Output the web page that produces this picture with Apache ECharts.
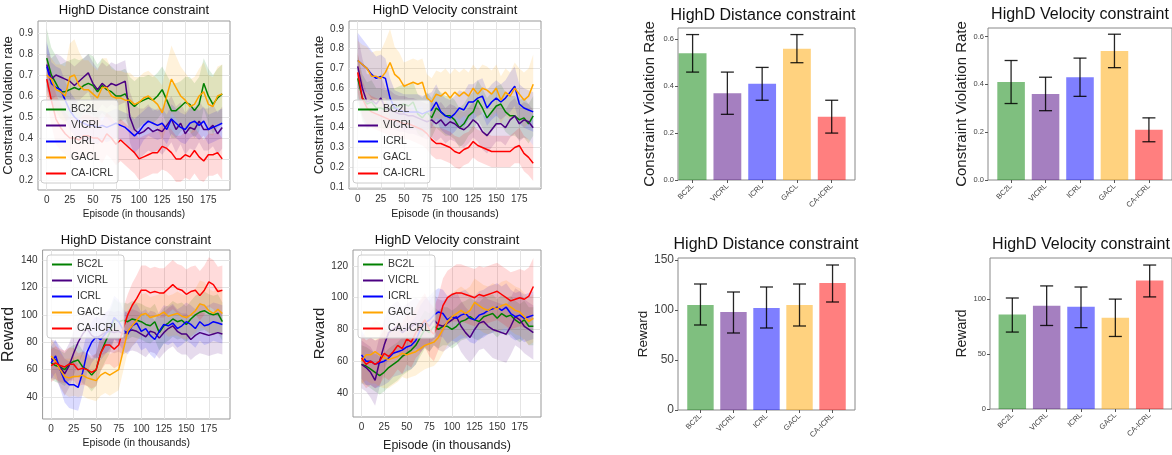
<!DOCTYPE html>
<html>
<head>
<meta charset="utf-8">
<script src="https://cdn.jsdelivr.net/npm/echarts@6/dist/echarts.min.js"></script>
<style>
  html, body { margin: 0; padding: 0; background: #fff; }
  #main { width: 1172px; height: 455px; }
</style>
</head>
<body>
<div id="main"></div>
<script>
var methods = ['BC2L', 'VICRL', 'ICRL', 'GACL', 'CA-ICRL'];
var lineColors = ['#008000', '#4b0082', '#0000ff', '#ffa500', '#ff0000'];
var barColors = ['rgba(0,128,0,0.5)', 'rgba(75,0,130,0.5)', 'rgba(0,0,255,0.5)', 'rgba(255,165,0,0.5)', 'rgba(255,0,0,0.5)'];

// episodes (thousands) at which the curves were read
var episodes = [0,5,10,15,20,25,30,35,40,45,50,55,60,65,70,75,80,85,90,95,100,105,110,115,120,125,130,135,140,145,150,155,160,165,170,175,180,185,190];

// tick labels
var xTicks = [0,25,50,75,100,125,150,175];
var cvDistTicks = [0.2,0.3,0.4,0.5,0.6,0.7,0.8,0.9];
var cvVelTicks = [0.1,0.2,0.3,0.4,0.5,0.6,0.7,0.8,0.9];
var rwDistTicks = [40,60,80,100,120,140];
var rwVelTicks = [40,60,80,100,120];
var barCvTicks = [0,0.2,0.4,0.6];
var barRwDistTicks = [0,50,100,150];
var barRwVelTicks = [0,50,100];

// constraint violation rate, distance constraint (mean)
var cvDistBC2L = [0.78,0.70,0.66,0.62,0.62,0.63,0.64,0.63,0.65,0.66,0.65,0.62,0.65,0.63,0.62,0.60,0.60,0.61,0.57,0.55,0.57,0.58,0.59,0.58,0.60,0.63,0.58,0.53,0.53,0.55,0.57,0.56,0.53,0.56,0.66,0.60,0.56,0.59,0.61];
var cvDistVICRL = [0.75,0.68,0.70,0.69,0.68,0.67,0.65,0.67,0.69,0.71,0.66,0.63,0.66,0.64,0.66,0.65,0.66,0.67,0.50,0.44,0.42,0.43,0.45,0.43,0.44,0.43,0.46,0.49,0.44,0.47,0.42,0.45,0.44,0.48,0.44,0.44,0.46,0.42,0.45];
var cvDistICRL = [0.74,0.66,0.64,0.63,0.58,0.53,0.50,0.48,0.47,0.46,0.46,0.45,0.46,0.45,0.46,0.47,0.46,0.45,0.43,0.41,0.43,0.46,0.48,0.47,0.46,0.47,0.44,0.49,0.47,0.45,0.44,0.47,0.48,0.46,0.48,0.44,0.45,0.46,0.47];
var cvDistGACL = [0.70,0.68,0.63,0.62,0.60,0.69,0.70,0.65,0.63,0.63,0.61,0.59,0.64,0.64,0.60,0.59,0.59,0.58,0.58,0.56,0.57,0.59,0.60,0.58,0.56,0.52,0.60,0.68,0.64,0.60,0.58,0.55,0.56,0.60,0.62,0.56,0.55,0.60,0.61];
var cvDistCA = [0.68,0.58,0.49,0.45,0.42,0.40,0.40,0.39,0.41,0.41,0.40,0.40,0.38,0.42,0.40,0.37,0.39,0.37,0.35,0.33,0.30,0.31,0.32,0.33,0.33,0.36,0.35,0.33,0.30,0.30,0.32,0.31,0.34,0.31,0.29,0.32,0.32,0.33,0.30];
// spread (std) of the shaded bands
var cvDistSdBC2L = [0.14,0.13,0.13,0.13,0.14,0.14,0.14,0.14,0.13,0.14,0.14,0.13,0.13,0.13,0.12,0.12,0.12,0.12,0.12,0.12,0.12,0.11,0.11,0.11,0.11,0.11,0.12,0.13,0.13,0.12,0.12,0.13,0.13,0.13,0.12,0.13,0.14,0.14,0.14];
var cvDistSdVICRL = [0.10,0.10,0.10,0.10,0.09,0.09,0.09,0.09,0.09,0.09,0.10,0.10,0.10,0.10,0.10,0.10,0.10,0.10,0.12,0.12,0.12,0.11,0.11,0.10,0.10,0.11,0.11,0.11,0.11,0.10,0.10,0.10,0.10,0.10,0.10,0.10,0.10,0.10,0.10];
var cvDistSdICRL = [0.12,0.10,0.10,0.10,0.09,0.09,0.09,0.08,0.08,0.08,0.08,0.08,0.07,0.07,0.07,0.07,0.07,0.07,0.08,0.08,0.08,0.07,0.07,0.07,0.07,0.07,0.07,0.07,0.07,0.07,0.07,0.07,0.07,0.07,0.07,0.07,0.07,0.07,0.07];
var cvDistSdGACL = [0.10,0.10,0.12,0.13,0.14,0.16,0.17,0.16,0.14,0.14,0.13,0.13,0.14,0.14,0.13,0.13,0.13,0.13,0.13,0.13,0.12,0.12,0.12,0.12,0.12,0.13,0.15,0.16,0.15,0.14,0.13,0.13,0.13,0.13,0.14,0.14,0.14,0.14,0.14];
var cvDistSdCA = [0.10,0.12,0.12,0.11,0.10,0.10,0.10,0.10,0.10,0.10,0.10,0.10,0.10,0.10,0.10,0.10,0.10,0.10,0.10,0.10,0.10,0.10,0.10,0.10,0.10,0.11,0.11,0.11,0.11,0.11,0.11,0.11,0.11,0.11,0.10,0.10,0.10,0.10,0.10];

// constraint violation rate, velocity constraint
var cvVelBC2L = [0.65,0.55,0.52,0.53,0.50,0.50,0.49,0.50,0.50,0.51,0.52,0.51,0.53,0.47,0.45,0.48,0.45,0.50,0.48,0.46,0.46,0.44,0.40,0.42,0.46,0.48,0.54,0.50,0.45,0.48,0.51,0.52,0.48,0.46,0.46,0.44,0.45,0.42,0.46];
var cvVelVICRL = [0.71,0.60,0.53,0.54,0.52,0.55,0.50,0.49,0.48,0.47,0.47,0.46,0.46,0.45,0.44,0.43,0.44,0.42,0.44,0.41,0.43,0.42,0.40,0.39,0.41,0.44,0.42,0.38,0.36,0.39,0.42,0.42,0.40,0.44,0.46,0.42,0.44,0.43,0.40];
var cvVelICRL = [0.74,0.72,0.70,0.67,0.65,0.66,0.65,0.55,0.50,0.49,0.48,0.48,0.48,0.48,0.47,0.48,0.49,0.53,0.48,0.46,0.45,0.47,0.50,0.49,0.53,0.53,0.55,0.56,0.50,0.53,0.55,0.53,0.55,0.58,0.61,0.52,0.50,0.49,0.48];
var cvVelGACL = [0.74,0.72,0.70,0.66,0.66,0.65,0.68,0.73,0.67,0.65,0.61,0.62,0.63,0.62,0.63,0.55,0.53,0.57,0.56,0.58,0.55,0.58,0.56,0.58,0.56,0.60,0.57,0.60,0.59,0.57,0.60,0.54,0.58,0.56,0.60,0.57,0.54,0.56,0.62];
var cvVelCA = [0.68,0.55,0.50,0.48,0.47,0.46,0.45,0.44,0.44,0.43,0.42,0.42,0.41,0.40,0.39,0.37,0.34,0.32,0.32,0.31,0.30,0.28,0.27,0.29,0.30,0.33,0.31,0.30,0.29,0.28,0.28,0.28,0.28,0.28,0.30,0.31,0.27,0.25,0.22];
var cvVelSdBC2L = [0.12,0.12,0.11,0.11,0.10,0.10,0.10,0.10,0.10,0.10,0.10,0.10,0.10,0.10,0.10,0.10,0.10,0.10,0.10,0.10,0.10,0.10,0.10,0.10,0.10,0.10,0.10,0.10,0.10,0.10,0.10,0.10,0.10,0.10,0.10,0.10,0.10,0.10,0.10];
var cvVelSdVICRL = [0.16,0.15,0.14,0.13,0.12,0.11,0.10,0.10,0.09,0.09,0.09,0.09,0.09,0.09,0.09,0.09,0.09,0.09,0.09,0.09,0.09,0.09,0.09,0.09,0.09,0.09,0.09,0.09,0.09,0.09,0.09,0.09,0.09,0.09,0.09,0.09,0.09,0.09,0.09];
var cvVelSdICRL = [0.14,0.13,0.12,0.12,0.11,0.11,0.10,0.10,0.09,0.09,0.09,0.09,0.09,0.09,0.09,0.09,0.09,0.09,0.09,0.09,0.09,0.09,0.09,0.09,0.09,0.09,0.09,0.09,0.09,0.09,0.09,0.09,0.09,0.10,0.10,0.10,0.10,0.10,0.10];
var cvVelSdGACL = [0.10,0.10,0.11,0.12,0.13,0.14,0.16,0.17,0.14,0.13,0.12,0.12,0.12,0.12,0.12,0.12,0.12,0.12,0.12,0.12,0.12,0.12,0.12,0.12,0.12,0.12,0.12,0.12,0.12,0.12,0.12,0.12,0.12,0.12,0.13,0.13,0.14,0.14,0.15];
var cvVelSdCA = [0.10,0.09,0.08,0.08,0.08,0.08,0.08,0.08,0.08,0.08,0.08,0.08,0.08,0.08,0.08,0.08,0.08,0.08,0.08,0.08,0.08,0.08,0.08,0.08,0.08,0.08,0.08,0.08,0.08,0.08,0.08,0.08,0.08,0.08,0.08,0.09,0.09,0.09,0.09];

// reward, distance constraint
var rwDistBC2L = [65,63,62,60,64,66,67,62,60,56,60,72,80,87,97,95,96,95,97,96,95,93,92,95,87,92,94,97,95,96,93,97,100,102,103,101,100,101,95];
var rwDistVICRL = [68,67,62,57,63,72,80,86,90,85,83,85,87,88,87,88,86,88,89,88,86,84,88,87,83,87,90,92,88,86,86,82,85,87,86,85,86,87,86];
var rwDistICRL = [65,70,60,52,49,49,47,58,73,80,84,82,86,90,98,95,89,86,92,94,88,90,85,82,88,93,92,94,90,92,95,93,90,95,92,93,95,94,93];
var rwDistGACL = [70,66,60,55,54,55,55,56,54,53,52,56,58,56,58,60,74,88,92,96,100,101,98,99,100,102,99,100,101,99,98,100,103,108,107,103,101,104,101];
var rwDistCA = [63,65,63,62,64,64,60,61,60,58,60,72,78,78,75,78,90,100,107,112,118,118,116,117,116,116,119,122,119,118,115,117,118,114,118,124,122,117,118];
var rwDistSdBC2L = [12,12,12,12,12,12,12,12,12,12,12,13,14,15,15,14,13,13,13,13,13,13,13,13,13,13,13,13,13,13,13,13,14,14,14,14,14,14,14];
var rwDistSdVICRL = [14,14,15,16,16,16,16,15,15,15,15,15,15,15,15,15,15,15,15,15,15,15,15,15,15,15,15,15,15,15,15,15,15,15,15,15,15,15,15];
var rwDistSdICRL = [12,12,14,16,17,18,17,16,15,15,15,15,15,15,16,16,15,15,15,14,14,14,14,14,14,14,14,14,14,14,14,14,14,14,14,14,14,14,14];
var rwDistSdGACL = [12,12,12,13,14,14,15,15,15,15,15,15,15,15,15,15,15,15,15,15,15,15,15,15,15,15,15,15,16,16,16,16,16,17,17,16,16,16,16];
var rwDistSdCA = [12,12,12,12,12,12,12,12,12,12,12,13,14,14,14,15,15,15,16,17,18,18,18,18,18,18,18,18,18,18,18,18,18,18,18,18,18,18,18];

// reward, velocity constraint
var rwVelBC2L = [58,57,55,53,51,53,56,58,60,63,65,67,70,75,80,78,82,80,82,82,80,82,85,86,88,86,85,88,89,90,87,90,88,89,86,84,86,82,82];
var rwVelVICRL = [58,56,53,48,60,70,78,80,82,78,80,82,84,82,85,82,86,83,82,84,86,88,82,78,75,80,84,85,82,80,79,78,77,82,88,86,82,80,78];
var rwVelICRL = [64,60,60,58,59,60,62,65,66,67,69,70,73,80,84,86,89,91,90,86,88,87,89,90,87,86,89,90,92,93,94,92,94,90,88,89,87,88,89];
var rwVelGACL = [60,64,64,66,64,62,61,62,63,65,64,65,66,68,70,71,72,75,80,85,88,90,92,90,92,97,95,93,92,94,93,95,96,94,92,91,88,85,87];
var rwVelCA = [62,58,60,58,60,65,63,66,70,68,74,72,78,82,86,80,77,84,95,100,102,103,103,102,101,100,102,101,102,103,104,102,100,98,99,100,99,101,107];
var rwVelSdBC2L = [12,12,12,12,12,12,12,12,12,12,12,12,12,12,12,12,12,12,12,12,12,12,12,12,12,12,12,12,12,12,12,12,12,12,12,12,12,12,12];
var rwVelSdVICRL = [15,15,16,16,16,16,16,16,16,16,16,16,16,16,16,16,16,16,16,16,16,16,16,16,16,17,17,17,17,18,18,18,18,18,18,18,17,17,17];
var rwVelSdICRL = [15,15,15,15,15,15,15,15,15,15,15,15,15,15,15,15,15,15,15,15,15,15,15,15,15,15,15,15,15,15,15,15,15,15,15,15,15,15,15];
var rwVelSdGACL = [14,16,18,20,20,19,18,17,16,15,15,15,15,15,15,15,15,15,15,15,15,15,15,15,15,15,15,15,15,15,15,15,15,15,15,15,15,15,15];
var rwVelSdCA = [15,15,15,15,15,15,15,15,15,16,16,16,16,17,17,17,17,17,17,17,17,18,18,18,18,18,18,18,18,18,18,18,18,18,18,18,18,18,18];

// final bar values with error bar ends
var barCvDist = [0.54,0.37,0.41,0.56,0.27];
var barCvDistLo = [0.46,0.28,0.34,0.50,0.20];
var barCvDistHi = [0.62,0.46,0.48,0.62,0.34];
var barCvVel = [0.41,0.36,0.43,0.54,0.21];
var barCvVelLo = [0.32,0.29,0.35,0.47,0.16];
var barCvVelHi = [0.50,0.43,0.51,0.61,0.26];
var barRwDist = [105,98,102,105,127];
var barRwDistLo = [85,77,82,84,108];
var barRwDistHi = [126,118,123,126,145];
var barRwVel = [86,94,93,83,117];
var barRwVelLo = [70,76,74,66,102];
var barRwVelHi = [101,112,111,100,131];

var font = '"Liberation Sans", Arial, sans-serif';
var titles = [], grids = [], xAxes = [], yAxes = [], legends = [], series = [];

function addTitle(text, cx, top, size) {
  titles.push({
    text: text, left: cx, top: top, textAlign: 'center', padding: 0,
    textStyle: { fontSize: size, fontWeight: 'normal', color: '#111', fontFamily: font }
  });
}

// shaded mean +- std band, drawn as one polygon through the axis coords
function bandRender(rows, color) {
  return function (params, api) {
    if (params.dataIndex !== 0) return null;
    var up = [], dn = [];
    for (var k = 0; k < rows.length; k++) {
      up.push(api.coord([rows[k][0], rows[k][2]]));
      dn.unshift(api.coord([rows[k][0], rows[k][1]]));
    }
    return { type: 'polygon', shape: { points: up.concat(dn) }, style: { fill: color, opacity: 0.14 } };
  };
}

function linePanel(p) {
  var gi = grids.length;
  addTitle(p.title, p.left + p.width / 2, p.titleTop, 13);
  grids.push({ left: p.left, top: p.top, width: p.width, height: p.height, show: true, borderColor: '#999', borderWidth: 1 });
  xAxes.push({
    type: 'value', gridIndex: gi, min: -9.45, max: 198.45,
    name: 'Episode (in thousands)', nameLocation: 'middle', nameGap: p.xGap,
    nameTextStyle: { fontSize: p.xNameSize, color: '#222', fontFamily: font },
    axisLine: { show: false, onZero: false },
    axisTick: { show: false, customValues: xTicks },
    axisLabel: { customValues: xTicks, fontSize: 10, color: '#333', margin: 5, fontFamily: font },
    splitLine: { show: true, lineStyle: { color: '#e4e4e4' } }
  });
  yAxes.push({
    type: 'value', gridIndex: gi, min: p.yMin, max: p.yMax,
    name: p.yName, nameLocation: 'middle', nameGap: p.yGap,
    nameTextStyle: { fontSize: p.yNameSize, color: '#222', fontFamily: font },
    axisLine: { show: false, onZero: false },
    axisTick: { show: false, customValues: p.ticks },
    axisLabel: { customValues: p.ticks, fontSize: 10, color: '#333', margin: 5, fontFamily: font, formatter: p.fmt },
    splitLine: { show: true, lineStyle: { color: '#e4e4e4' } }
  });
  legends.push({
    data: methods, orient: 'vertical', left: p.legLeft, top: p.legTop,
    icon: 'rect', itemWidth: 20, itemHeight: 2, itemGap: 5, padding: [4, 5],
    backgroundColor: 'rgba(255,255,255,0.8)', borderColor: '#ccc', borderWidth: 1, borderRadius: 3,
    textStyle: { fontSize: 10.5, color: '#333', fontFamily: font }
  });
  for (var i = 0; i < 5; i++) {
    var rows = [];
    for (var k = 0; k < episodes.length; k++) {
      rows.push([episodes[k], p.means[i][k] - p.sds[i][k], p.means[i][k] + p.sds[i][k]]);
    }
    series.push({ type: 'custom', name: methods[i] + ' band', xAxisIndex: gi, yAxisIndex: gi,
      data: rows, encode: { x: 0, y: [1, 2] }, clip: true, silent: true, z: 1,
      renderItem: bandRender(rows, lineColors[i]) });
  }
  for (var j = 0; j < 5; j++) {
    var d = [];
    for (var m = 0; m < episodes.length; m++) d.push([episodes[m], p.means[j][m]]);
    series.push({ type: 'line', name: methods[j], xAxisIndex: gi, yAxisIndex: gi, data: d,
      symbol: 'none', silent: true, z: 3, color: lineColors[j],
      itemStyle: { color: lineColors[j] }, lineStyle: { color: lineColors[j], width: 1.5 } });
  }
}

function errRender(params, api) {
  var x = api.value(0);
  var top = api.coord([x, api.value(2)]);
  var bot = api.coord([x, api.value(1)]);
  var w = 6.5;
  var style = { stroke: '#000', lineWidth: 1.3, opacity: 0.85 };
  return {
    type: 'group', children: [
      { type: 'line', shape: { x1: top[0], y1: top[1], x2: bot[0], y2: bot[1] }, style: style },
      { type: 'line', shape: { x1: top[0] - w, y1: top[1], x2: top[0] + w, y2: top[1] }, style: style },
      { type: 'line', shape: { x1: bot[0] - w, y1: bot[1], x2: bot[0] + w, y2: bot[1] }, style: style }
    ]
  };
}

function barPanel(p) {
  var gi = grids.length;
  addTitle(p.title, p.titleX, p.titleTop, 16);
  grids.push({ left: p.left, top: p.top, width: p.width, height: p.height, show: true, borderColor: '#888', borderWidth: 1 });
  xAxes.push({
    type: 'value', gridIndex: gi, min: p.xMin, max: p.xMax,
    axisLine: { show: false, onZero: false },
    axisTick: { show: true, customValues: [0, 1, 2, 3, 4], length: 3, lineStyle: { color: '#555' } },
    axisLabel: { customValues: [0, 1, 2, 3, 4], rotate: 45, fontSize: 7.5, color: '#444', margin: 5, fontFamily: font,
      formatter: function (v) { return methods[Math.round(v)]; } },
    splitLine: { show: false }
  });
  yAxes.push({
    type: 'value', gridIndex: gi, min: 0, max: p.yMax,
    name: p.yName, nameLocation: 'middle', nameGap: p.yGap,
    nameTextStyle: { fontSize: p.yNameSize, color: '#222', fontFamily: font },
    axisLine: { show: false, onZero: false },
    axisTick: { show: true, customValues: p.ticks, length: 3, lineStyle: { color: '#555' } },
    axisLabel: { customValues: p.ticks, fontSize: p.tickSize, color: '#444', margin: 4, fontFamily: font, formatter: p.fmt },
    splitLine: { show: false }
  });
  var bw = p.width / (p.xMax - p.xMin) * 0.8;
  series.push({
    type: 'bar', xAxisIndex: gi, yAxisIndex: gi, barWidth: bw, silent: true,
    data: p.values.map(function (v, i) { return { value: [i, v], itemStyle: { color: barColors[i] } }; })
  });
  series.push({
    type: 'custom', xAxisIndex: gi, yAxisIndex: gi, silent: true, z: 5, renderItem: errRender,
    encode: { x: 0, y: [1, 2] },
    data: p.lo.map(function (l, i) { return [i, l, p.hi[i]]; })
  });
}

var fmt1 = function (v) { return v.toFixed(1); };
var fmt0 = function (v) { return String(Math.round(v)); };

linePanel({ title: 'HighD Distance constraint', titleTop: 4, left: 38, top: 21, width: 192, height: 169,
  yMin: 0.152, yMax: 0.957, ticks: cvDistTicks, fmt: fmt1,
  yName: 'Constraint Violation rate', yGap: 14, yNameSize: 13, xGap: 19, xNameSize: 10,
  legLeft: 41, legTop: 100,
  means: [cvDistBC2L, cvDistVICRL, cvDistICRL, cvDistGACL, cvDistCA],
  sds: [cvDistSdBC2L, cvDistSdVICRL, cvDistSdICRL, cvDistSdGACL, cvDistSdCA] });

linePanel({ title: 'HighD Velocity constraint', titleTop: 4, left: 349, top: 21, width: 192, height: 168,
  yMin: 0.09, yMax: 0.94, ticks: cvVelTicks, fmt: fmt1,
  yName: 'Constraint Violation rate', yGap: 11, yNameSize: 13, xGap: 20, xNameSize: 10.5,
  legLeft: 353, legTop: 100,
  means: [cvVelBC2L, cvVelVICRL, cvVelICRL, cvVelGACL, cvVelCA],
  sds: [cvVelSdBC2L, cvVelSdVICRL, cvVelSdICRL, cvVelSdGACL, cvVelSdCA] });

linePanel({ title: 'HighD Distance constraint', titleTop: 234, left: 42, top: 250, width: 188, height: 169,
  yMin: 24, yMax: 147.3, ticks: rwDistTicks, fmt: fmt0,
  yName: 'Reward', yGap: 12, yNameSize: 16, xGap: 19, xNameSize: 10.5,
  legLeft: 47, legTop: 255,
  means: [rwDistBC2L, rwDistVICRL, rwDistICRL, rwDistGACL, rwDistCA],
  sds: [rwDistSdBC2L, rwDistSdVICRL, rwDistSdICRL, rwDistSdGACL, rwDistSdCA] });

linePanel({ title: 'HighD Velocity constraint', titleTop: 234, left: 353, top: 250, width: 188, height: 167,
  yMin: 24.9, yMax: 130, ticks: rwVelTicks, fmt: fmt0,
  yName: 'Reward', yGap: 12, yNameSize: 15, xGap: 22, xNameSize: 12.5,
  legLeft: 358, legTop: 255,
  means: [rwVelBC2L, rwVelVICRL, rwVelICRL, rwVelGACL, rwVelCA],
  sds: [rwVelSdBC2L, rwVelSdVICRL, rwVelSdICRL, rwVelSdGACL, rwVelSdCA] });

barPanel({ title: 'HighD Distance constraint', titleX: 763, titleTop: 8, left: 678, top: 28, width: 177, height: 152,
  xMin: -0.42, xMax: 4.67, yMax: 0.648, ticks: barCvTicks, fmt: fmt1, tickSize: 7.5,
  yName: 'Constraint Violation Rate', yGap: 21, yNameSize: 15,
  values: barCvDist, lo: barCvDistLo, hi: barCvDistHi });

barPanel({ title: 'HighD Velocity constraint', titleX: 1080, titleTop: 7, left: 988, top: 28, width: 184, height: 152,
  xMin: -0.67, xMax: 4.67, yMax: 0.636, ticks: barCvTicks, fmt: fmt1, tickSize: 7.5,
  yName: 'Constraint Violation Rate', yGap: 17, yNameSize: 15,
  values: barCvVel, lo: barCvVelLo, hi: barCvVelHi });

barPanel({ title: 'HighD Distance constraint', titleX: 766, titleTop: 237, left: 678, top: 258, width: 177, height: 152,
  xMin: -0.68, xMax: 4.68, yMax: 152, ticks: barRwDistTicks, fmt: fmt0, tickSize: 12,
  yName: 'Reward', yGap: 24, yNameSize: 13.5,
  values: barRwDist, lo: barRwDistLo, hi: barRwDistHi });

barPanel({ title: 'HighD Velocity constraint', titleX: 1081, titleTop: 237, left: 990, top: 258, width: 182, height: 151,
  xMin: -0.65, xMax: 4.65, yMax: 137.4, ticks: barRwVelTicks, fmt: fmt0, tickSize: 7.5,
  yName: 'Reward', yGap: 18, yNameSize: 14,
  values: barRwVel, lo: barRwVelLo, hi: barRwVelHi });

var chart = echarts.init(document.getElementById('main'), null, { renderer: 'canvas' });
chart.setOption({
  animation: false,
  backgroundColor: '#fff',
  textStyle: { fontFamily: font },
  title: titles,
  grid: grids,
  xAxis: xAxes,
  yAxis: yAxes,
  legend: legends,
  series: series
});
</script>
</body>
</html>
